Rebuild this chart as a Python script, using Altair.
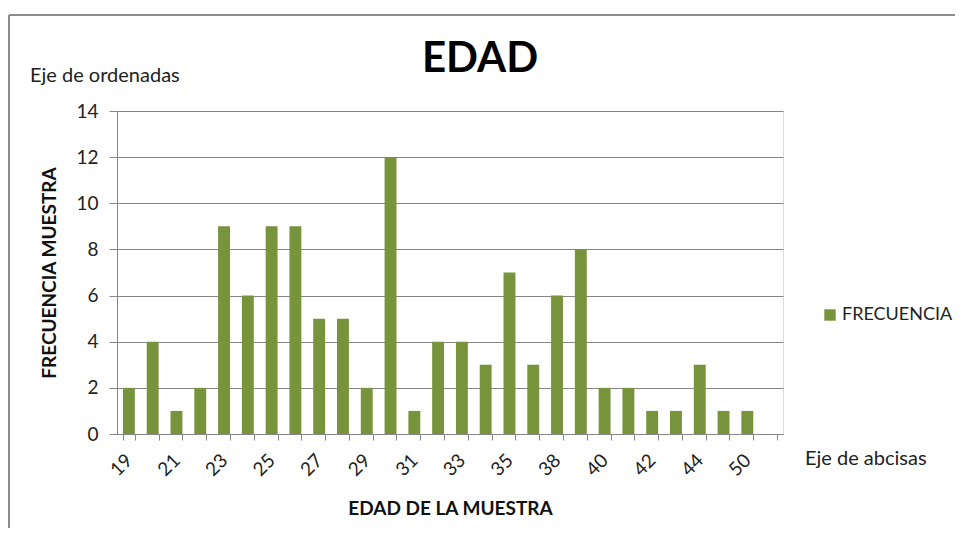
import altair as alt
import pandas as pd

# index 17 and 25 labels are hidden in the reference (only every other label is shown)
edades = ["19", "20", "21", "22", "23", "24", "25", "26", "27", "28", "29", "30", "31",
          "32", "33", "34", "35", "37", "38", "39", "40", "41", "42", "43", "44", "46", "50"]
frecuencia = [2, 4, 1, 2, 9, 6, 9, 9, 5, 5, 2, 12, 1, 4, 4, 3, 7, 3, 6, 8, 2, 2, 1, 1, 3, 1, 1]
dominio_x = edades + [" "]

df = pd.DataFrame({"edad": edades, "frec": frecuencia, "serie": "FRECUENCIA"})

FONT = "Lato"
GRID = "#868686"
GREEN = "#77933C"

lista = ",".join("'" + e + "'" for e in dominio_x)
label_expr = f"indexof([{lista}], datum.value) % 2 == 0 ? datum.label : ''"

bars = alt.Chart(df).mark_bar(color=GREEN).encode(
    x=alt.X("edad:N", sort=dominio_x,
            scale=alt.Scale(domain=dominio_x, paddingInner=0.5, paddingOuter=0.25),
            axis=alt.Axis(title="EDAD DE LA MUESTRA", labelAngle=-45, labelAlign="right",
                          labelBaseline="middle", labelExpr=label_expr, tickBand="extent",
                          tickSize=6, tickColor=GRID, domainColor=GRID, labelFontSize=19,
                          labelFont=FONT, labelColor="#222222", labelPadding=17,
                          titleFont=FONT, titleFontSize=19, titleFontWeight="bold",
                          titleColor="#111111", titlePadding=20, grid=False)),
    y=alt.Y("frec:Q", scale=alt.Scale(domain=[0, 14]),
            axis=alt.Axis(title="FRECUENCIA MUESTRA", values=list(range(0, 15, 2)),
                          tickSize=8, tickColor=GRID, domainColor=GRID, gridColor=GRID,
                          labelFontSize=19, labelFont=FONT, labelColor="#222222",
                          labelPadding=11, titleFont=FONT, titleFontSize=19,
                          titleFontWeight="bold", titleColor="#111111", titlePadding=16)),
    color=alt.Color("serie:N", scale=alt.Scale(range=[GREEN]),
                    legend=alt.Legend(title=None, orient="none", legendX=704, legendY=195,
                                      symbolType="square", symbolSize=130, labelFont=FONT,
                                      labelFontSize=18, labelColor="#222222", labelOffset=3,
                                      symbolStrokeWidth=0)),
)

titulo = alt.Chart(pd.DataFrame({"t": ["EDAD"]})).mark_text(
    font=FONT, fontSize=42, fontWeight="bold", color="#000000", baseline="middle"
).encode(x=alt.value(363), y=alt.value(-52), text="t:N")

ordenadas = alt.Chart(pd.DataFrame({"t": ["Eje de ordenadas"]})).mark_text(
    font=FONT, fontSize=20, color="#222222", align="left", baseline="middle"
).encode(x=alt.value(-87), y=alt.value(-35), text="t:N")

abcisas = alt.Chart(pd.DataFrame({"t": ["Eje de abcisas"]})).mark_text(
    font=FONT, fontSize=20, color="#222222", align="left", baseline="middle"
).encode(x=alt.value(688), y=alt.value(348), text="t:N")

borde_sup = alt.Chart(pd.DataFrame({"a": [0]})).mark_rule(color="#8c8c8c", strokeWidth=2).encode(
    x=alt.value(-108), x2=alt.value(860), y=alt.value(-96))
borde_izq = alt.Chart(pd.DataFrame({"a": [0]})).mark_rule(color="#8c8c8c", strokeWidth=2).encode(
    x=alt.value(-108), y=alt.value(-96), y2=alt.value(430))

chart = alt.layer(bars, titulo, ordenadas, abcisas, borde_sup, borde_izq).properties(
    width=666, height=323,
    autosize=alt.AutoSizeParams(type="none"),
    padding={"left": 109, "top": 103, "right": 172, "bottom": 94},
).configure_view(stroke=None).configure(background="white")

chart.save("out.html", embed_options={"renderer": "svg", "actions": False})
